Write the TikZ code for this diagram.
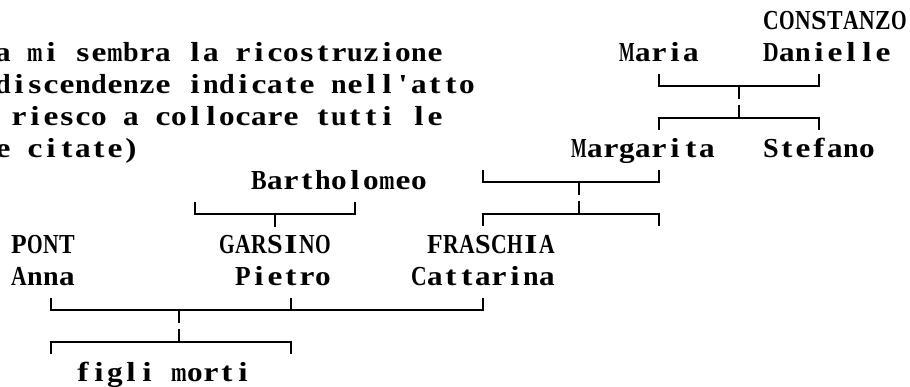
\documentclass[tikz,border=0pt]{standalone}
\usepackage{fontspec}
\setmonofont{Liberation Serif}
\newlength\cellw \setlength\cellw{16pt}
\newlength\glyphw
\newsavebox\glyphbox
\makeatletter
\def\monotext#1{\monotext@#1\@nil}
\def\monotext@#1{\ifx#1\@nil\else\monocell{#1}\expandafter\monotext@\fi}
\makeatother
\newcommand\monocell[1]{%
  \sbox\glyphbox{#1}\setlength\glyphw{\wd\glyphbox}%
  \pgfmathsetmacro\glyphratio{min(1.22,15.6/\glyphw)}%
  \makebox[\cellw][c]{\scalebox{\glyphratio}[1]{\usebox\glyphbox}}}
\begin{document}
\begin{tikzpicture}[x=1pt,y=-1pt,
  txt/.style={font=\ttfamily\bfseries\fontsize{27.5}{32}\selectfont, inner sep=0pt, outer sep=0pt, anchor=base west},
  link/.style={line width=2pt, line cap=butt, line join=miter}]
\useasboundingbox (0,0) rectangle (910,387);
\clip (0,0) rectangle (910,387);
% texts
\node[txt] (constanzo) at (763,29.5) {\monotext{CONSTANZO}};
\node[txt] (l1) at (-5,61.5) {\monotext{a~mi~sembra~la~ricostruzione}};
\node[txt] (maria) at (619,61.5) {\monotext{Maria}};
\node[txt] (danielle) at (763,61.5) {\monotext{Danielle}};
\node[txt] (l2) at (-5,93.5) {\monotext{discendenze~indicate~nell'atto}};
\node[txt] (l3) at (11,125.5) {\monotext{riesco~a~collocare~tutti~le}};
\node[txt] (l4) at (-5,157.5) {\monotext{e~citate)}};
\node[txt] (margarita) at (571,157.5) {\monotext{Margarita}};
\node[txt] (stefano) at (763,157.5) {\monotext{Stefano}};
\node[txt] (bartholomeo) at (251,189.5) {\monotext{Bartholomeo}};
\node[txt] (pont) at (11,254) {\monotext{PONT}};
\node[txt] (garsino) at (219,254) {\monotext{GARSINO}};
\node[txt] (fraschia) at (427,254) {\monotext{FRASCHIA}};
\node[txt] (anna) at (11,286) {\monotext{Anna}};
\node[txt] (pietro) at (235,286) {\monotext{Pietro}};
\node[txt] (cattarina) at (411,286) {\monotext{Cattarina}};
\node[txt] (figli) at (75,381) {\monotext{figli~morti}};
% bracket A (Maria - Danielle)
\coordinate (a1) at (659,74); \coordinate (a2) at (659,86);
\coordinate (a3) at (819,86); \coordinate (a4) at (819,74);
\coordinate (a5) at (739,86); \coordinate (a6) at (739,99);
\draw[link] (a1) -- (a2) -- (a3) -- (a4);
\draw[link] (a5) -- (a6);
% bracket B (children: Margarita, Stefano)
\coordinate (b0) at (739,105); \coordinate (b1) at (739,118);
\coordinate (b2) at (659,130); \coordinate (b3) at (659,118);
\coordinate (b4) at (819,118); \coordinate (b5) at (819,130);
\draw[link] (b0) -- (b1);
\draw[link] (b2) -- (b3) -- (b4) -- (b5);
% bracket C (under Margarita)
\coordinate (c1) at (483,170); \coordinate (c2) at (483,182);
\coordinate (c3) at (659,182); \coordinate (c4) at (659,170);
\coordinate (c5) at (579,182); \coordinate (c6) at (579,195);
\draw[link] (c1) -- (c2) -- (c3) -- (c4);
\draw[link] (c5) -- (c6);
% bracket D (children)
\coordinate (d0) at (579,201); \coordinate (d1) at (579,214);
\coordinate (d2) at (483,226); \coordinate (d3) at (483,214);
\coordinate (d4) at (659,214); \coordinate (d5) at (659,226);
\draw[link] (d0) -- (d1);
\draw[link] (d2) -- (d3) -- (d4) -- (d5);
% bracket E (under Bartholomeo)
\coordinate (e1) at (195,202); \coordinate (e2) at (195,214);
\coordinate (e3) at (355,214); \coordinate (e4) at (355,202);
\coordinate (e5) at (275,214); \coordinate (e6) at (275,227);
\draw[link] (e1) -- (e2) -- (e3) -- (e4);
\draw[link] (e5) -- (e6);
% bracket F (Anna - Pietro - Cattarina)
\coordinate (f1) at (51,298); \coordinate (f2) at (51,310);
\coordinate (f3) at (483,310); \coordinate (f4) at (483,298);
\coordinate (f5) at (291,298); \coordinate (f6) at (291,310);
\coordinate (f7) at (179,310); \coordinate (f8) at (179,323);
\draw[link] (f1) -- (f2) -- (f3) -- (f4);
\draw[link] (f5) -- (f6);
\draw[link] (f7) -- (f8);
% bracket G (figli morti)
\coordinate (g0) at (179,329); \coordinate (g1) at (179,342);
\coordinate (g2) at (51,354); \coordinate (g3) at (51,342);
\coordinate (g4) at (291,342); \coordinate (g5) at (291,354);
\draw[link] (g0) -- (g1);
\draw[link] (g2) -- (g3) -- (g4) -- (g5);
\end{tikzpicture}
\end{document}
